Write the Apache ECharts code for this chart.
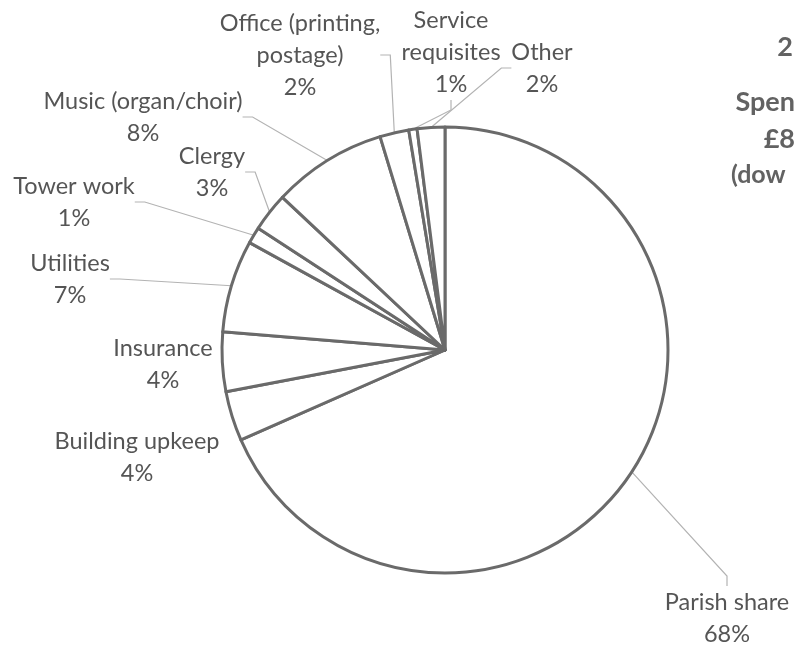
<!DOCTYPE html>
<html>
<head>
<meta charset="utf-8">
<script src="https://cdn.jsdelivr.net/npm/echarts@6/dist/echarts.min.js"></script>
<style>
  html, body { margin: 0; padding: 0; background: #fff; }
  #chart { width: 795px; height: 647px; }
</style>
</head>
<body>
<div id="chart"></div>
<script>
// spending share, clockwise from 12 o'clock
const categories = [
  'Parish share',
  'Building upkeep',
  'Insurance',
  'Utilities',
  'Tower work',
  'Clergy',
  'Music (organ/choir)',
  'Office (printing,\npostage)',
  'Service\nrequisites',
  'Other'
];
const values = [68.4, 3.6, 4.3, 6.7, 1.2, 2.8, 8.3, 2.1, 0.6, 2.0];

// title is cut off by the right edge of the scan
const titleLines = ['2', 'Spen', '£8', '(dow'];

const chart = echarts.init(document.getElementById('chart'));

// where each label block sits (centre), same order as categories
const labelSpots = [
  [727, 618], [137, 457], [163, 364], [70, 279], [74, 202],
  [212, 172], [143, 117], [300, 55], [451, 52], [542, 68]
];
const noLeader = [1, 2];

// first three run right up to the edge, the last one is cut by it
const titlePos = [
  { right: 2, top: 34, size: 27 },
  { right: 0, top: 89, size: 27 },
  { right: 0, top: 126, size: 27 },
  { left: 731, top: 162, size: 25 }
];

chart.setOption({
  animation: false,
  graphic: titleLines.map((t, i) => ({
    type: 'text',
    left: titlePos[i].left,
    right: titlePos[i].right,
    top: titlePos[i].top,
    style: {
      text: t,
      fill: '#626262',
      font: 'bold ' + titlePos[i].size + 'px Lato, sans-serif'
    }
  })),
  series: [
    {
      type: 'pie',
      center: [445, 350],
      radius: [0, 223],
      startAngle: 90,
      clockwise: true,
      percentPrecision: 0,
      avoidLabelOverlap: false,
      itemStyle: {
        color: '#ffffff',
        borderColor: '#6a6a6a',
        borderWidth: 3
      },
      label: {
        show: true,
        position: 'outside',
        formatter: '{b}\n{d}%',
        color: '#555555',
        fontFamily: 'Lato, sans-serif',
        fontSize: 23.5,
        lineHeight: 32,
        align: 'center'
      },
      labelLine: {
        show: true,
        length: 10,
        length2: 10,
        lineStyle: { color: '#b3b3b3', width: 1.2 }
      },
      labelLayout: (p) => ({
        x: labelSpots[p.dataIndex][0],
        y: labelSpots[p.dataIndex][1],
        align: 'center',
        verticalAlign: 'middle'
      }),
      emphasis: { disabled: true },
      data: categories.map((name, i) => ({
        name: name,
        value: values[i],
        labelLine: { show: noLeader.indexOf(i) < 0 }
      }))
    }
  ]
});
</script>
</body>
</html>
